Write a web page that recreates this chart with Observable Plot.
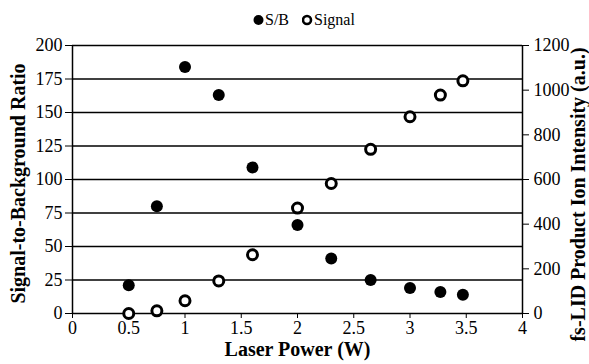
<!DOCTYPE html>
<html>
<head>
<meta charset="utf-8">
<script src="https://cdn.jsdelivr.net/npm/d3@7"></script>
<script src="https://cdn.jsdelivr.net/npm/@observablehq/plot@0.6"></script>
<style>
  html, body { margin: 0; padding: 0; background: #fff; }
  body { width: 589px; height: 364px; overflow: hidden; font-family: "Liberation Serif", serif; }
  svg text { font-family: "Liberation Serif", serif !important; }
  #legend { height: 34px; position: relative; }
  .item { position: absolute; top: 11px; display: flex; align-items: center; font-size: 16px; line-height: 18px; color: #000; }
</style>
</head>
<body>
<div id="legend">
  <div class="item" style="left:253px"><svg width="12" height="12"><circle cx="5.5" cy="6" r="5" fill="#000"/></svg>S/B</div>
  <div class="item" style="left:302px"><svg width="12" height="12"><circle cx="5" cy="6" r="4" fill="#fff" stroke="#000" stroke-width="2.6"/></svg>Signal</div>
</div>
<div id="chart"></div>
<script>
const power = [0.5, 0.75, 1.0, 1.3, 1.6, 2.0, 2.3, 2.65, 3.0, 3.27, 3.47];
const sbRatio = [21, 80, 184, 163, 109, 66, 41, 25, 19, 16, 14];
const signal = [0, 12, 57, 146, 263, 472, 582, 735, 881, 978, 1042];
const xTicks = [0, 0.5, 1, 1.5, 2, 2.5, 3, 3.5, 4];
const leftTicks = [0, 25, 50, 75, 100, 125, 150, 175, 200];
const rightTicks = [0, 200, 400, 600, 800, 1000, 1200];
const ratio = 1200 / 200; // right axis units per left axis unit

const sbData = power.map((x, i) => ({x, y: sbRatio[i]}));
const sigData = power.map((x, i) => ({x, y: signal[i] / ratio}));

const chart = Plot.plot({
  width: 589,
  height: 330,
  marginTop: 11,
  marginBottom: 51,
  marginLeft: 72,
  marginRight: 67,
  style: {fontFamily: "Liberation Serif", fontSize: "18px", color: "#000", background: "#fff"},
  x: {domain: [0, 4]},
  y: {domain: [0, 200]},
  marks: [
    Plot.ruleY(leftTicks.filter(d => d > 0), {stroke: "#000", strokeWidth: 1.5}),
    Plot.ruleY([0], {stroke: "#000", strokeWidth: 1.5}),
    Plot.ruleX([0, 4], {y1: 0, y2: 200, stroke: "#000", strokeWidth: 1.5}),
    Plot.axisX({ticks: xTicks, tickSize: 5, tickPadding: 3, tickFormat: d => String(d), label: null, fontSize: 18}),
    Plot.axisY({ticks: leftTicks, anchor: "left", tickSize: 7, tickPadding: 3, label: null, fontSize: 18}),
    Plot.axisY({ticks: rightTicks.map(d => d / ratio), anchor: "right", tickSize: 6, tickPadding: 5,
      tickFormat: d => String(Math.round(d * ratio)), label: null, fontSize: 18}),
    Plot.text(["Signal-to-Background Ratio"], {frameAnchor: "left", textAnchor: "middle", rotate: -90, dx: -53.5, dy: 4, fontWeight: "bold", fontSize: 20}),
    Plot.text(["fs-LID Product Ion Intensity (a.u.)"], {frameAnchor: "right", textAnchor: "middle", rotate: -90, dx: 56, dy: 15, fontWeight: "bold", fontSize: 20}),
    Plot.text(["Laser Power (W)"], {frameAnchor: "bottom", dy: 42, fontWeight: "bold", fontSize: 20}),
    Plot.dot(sbData, {x: "x", y: "y", r: 6, fill: "#000", stroke: "none"}),
    Plot.dot(sigData, {x: "x", y: "y", r: 5, fill: "#fff", stroke: "#000", strokeWidth: 3})
  ]
});
document.getElementById("chart").appendChild(chart);
</script>
</body>
</html>
